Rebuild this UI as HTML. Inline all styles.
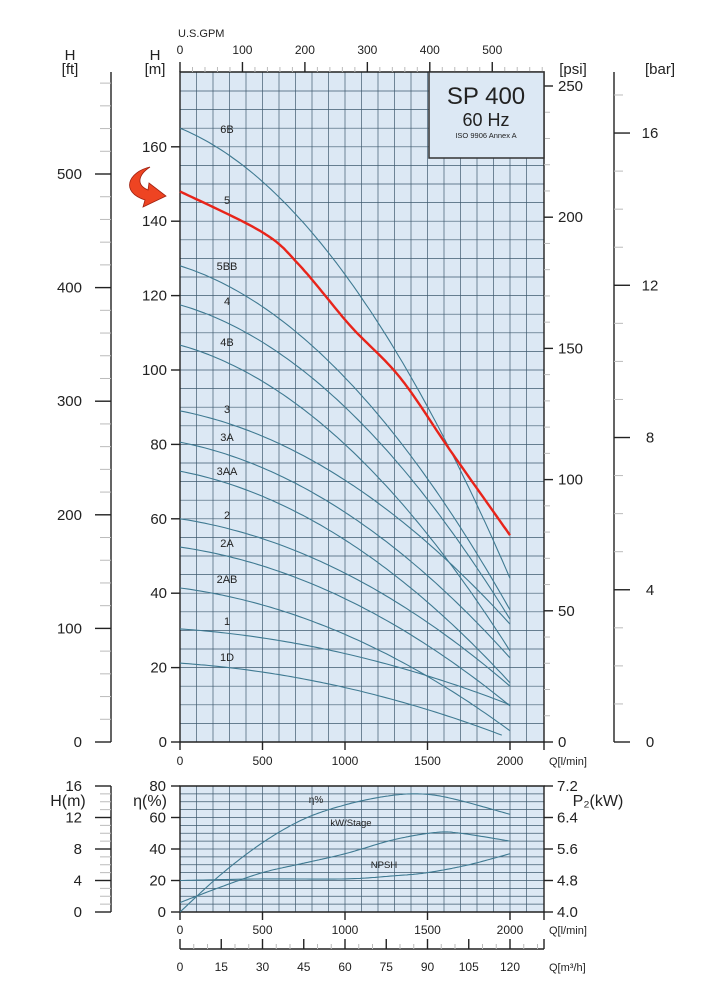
<!DOCTYPE html>
<html><head><meta charset="utf-8"><style>
html,body{margin:0;padding:0;background:#fff}
svg{display:block;font-family:"Liberation Sans",sans-serif}
</style></head><body>
<svg id="s" width="726" height="1000" viewBox="0 0 726 1000" xmlns="http://www.w3.org/2000/svg">
<rect width="726" height="1000" fill="#fff"/>
<rect x="180" y="72" width="364" height="670" fill="#dce8f4"/>
<rect x="180" y="786" width="364" height="126" fill="#dce8f4"/>
<g id="grid" stroke="#3e5a6e" stroke-width="0.7" fill="none"></g>
<g id="ax" stroke="#222" stroke-width="1.4" fill="none"></g>
<g id="curves" fill="none"></g>
<g id="txt" fill="#222" font-size="14"></g>
<rect x="429" y="72" width="115" height="86" fill="#dce8f4" stroke="#333" stroke-width="1.5"/>
<text x="486" y="104" font-size="24" text-anchor="middle" fill="#222">SP 400</text>
<text x="486" y="126" font-size="18" text-anchor="middle" fill="#222">60 Hz</text>
<text x="486" y="138" font-size="7.5" text-anchor="middle" fill="#222">ISO 9906 Annex A</text>
<path d="M150,167 C128,172 120,192 145,200 L143,207 L166,196 L149,183 L148,190 C136,185 138,175 150,167 Z" fill="#ee4422" stroke="#a02010" stroke-width="0.8"/>
</svg>
<script>
const NS="http://www.w3.org/2000/svg";
function el(p,t,a,txt){const e=document.createElementNS(NS,t);for(const k in a)e.setAttribute(k,a[k]);if(txt!==undefined)e.textContent=txt;document.getElementById(p).appendChild(e);return e;}
const X=q=>180+q*0.165;
const Y=h=>742-h*3.72;
const Y2=e=>912-e*1.575;
for(let q=100;q<2200;q+=100){el('grid','line',{x1:X(q),y1:72,x2:X(q),y2:742});el('grid','line',{x1:X(q),y1:786,x2:X(q),y2:912});}
for(let h=5;h<180;h+=5)el('grid','line',{x1:180,y1:Y(h),x2:544,y2:Y(h)});
for(let e=5;e<80;e+=5)el('grid','line',{x1:180,y1:Y2(e),x2:544,y2:Y2(e)});
el('ax','path',{d:'M180,742 V72 H544 V742 H180'});
el('ax','path',{d:'M180,912 V786 H544 V912 H180'});
el('ax','line',{x1:111,y1:72,x2:111,y2:742});
el('ax','line',{x1:614,y1:72,x2:614,y2:742});
el('ax','line',{x1:111,y1:786,x2:111,y2:912});
el('ax','path',{d:'M180,949 H544'});
function T(x,y,s,a,sz){el('txt','text',{x:x,y:y,'text-anchor':a||'start','font-size':sz||14},s);}
for(let h=0;h<=160;h+=20){el('ax','line',{x1:171,y1:Y(h),x2:180,y2:Y(h)});T(167,Y(h)+5,h,'end',15);}
for(let f=0;f<=580;f+=20){const y=742-f*1.136;if(y<74)break;if(f%100==0){el('ax','line',{x1:95,y1:y,x2:111,y2:y});T(82,y+5,f,'end',15);}else el('ax','line',{x1:100,y1:y,x2:111,y2:y,stroke:'#bbb','stroke-width':1});}
for(let p=0;p<=250;p+=10){const y=742-p*2.624;if(p%50==0){el('ax','line',{x1:544,y1:y,x2:553,y2:y});T(558,y+5,p,'start',15);}else el('ax','line',{x1:544,y1:y,x2:550,y2:y,stroke:'#bbb','stroke-width':1});}
for(let b=0;b<=17;b++){const y=742-b*38.06;if(y<74)break;if(b%4==0){el('ax','line',{x1:614,y1:y,x2:630,y2:y});T(650,y+5,b,'middle',15);}else el('ax','line',{x1:614,y1:y,x2:623,y2:y,stroke:'#bbb','stroke-width':1});}
for(let q=0;q<=2000;q+=500){el('ax','line',{x1:X(q),y1:742,x2:X(q),y2:750});T(X(q),765,q,'middle',12);el('ax','line',{x1:X(q),y1:912,x2:X(q),y2:920});T(X(q),934,q,'middle',12);}
el('ax','line',{x1:544,y1:742,x2:544,y2:750});el('ax','line',{x1:544,y1:912,x2:544,y2:920});
T(549,765,'Q[l/min]','start',11);T(549,934,'Q[l/min]','start',11);
for(let g=0;g<=580;g+=20){const x=180+g*0.6245;if(x>544)break;if(g%100==0){el('ax','line',{x1:x,y1:72,x2:x,y2:62});T(x,54,g,'middle',12);}else el('ax','line',{x1:x,y1:72,x2:x,y2:67,stroke:'#bbb','stroke-width':1});}
T(178,37,'U.S.GPM','start',11);
for(let m=0;m<=130;m+=5){const x=X(m*1000/60);if(x>544.5)break;if(m%15==0){el('ax','line',{x1:x,y1:949,x2:x,y2:939});T(x,971,m,'middle',12);}else el('ax','line',{x1:x,y1:949,x2:x,y2:944,stroke:'#bbb','stroke-width':1});}
el('ax','line',{x1:544,y1:949,x2:544,y2:939});
T(549,971,'Q[m³/h]','start',11);
for(let e=0;e<=80;e+=20){el('ax','line',{x1:171,y1:Y2(e),x2:180,y2:Y2(e)});T(166,Y2(e)+5,e,'end',15);}
const kw=['4.0','4.8','5.6','6.4','7.2'];
for(let i=0;i<5;i++){const y=Y2(i*20);el('ax','line',{x1:544,y1:y,x2:553,y2:y});T(557,y+5,kw[i],'start',15);}
for(let i=0;i<=16;i++){const y=912-i*7.875;if(i%4==0){el('ax','line',{x1:95,y1:y,x2:111,y2:y});T(82,y+5,i,'end',15);}else el('ax','line',{x1:100,y1:y,x2:111,y2:y,stroke:'#bbb','stroke-width':1});}
T(68,806,'H(m)','middle',16);T(150,806,'η(%)','middle',16);T(598,806,'P₂(kW)','middle',16);
T(70,60,'H','middle',15);T(70,74,'[ft]','middle',15);T(155,60,'H','middle',15);T(155,74,'[m]','middle',15);
T(573,74,'[psi]','middle',15);T(660,74,'[bar]','middle',15);
function pl(pts,fx,fy,col,w){let d='';pts.forEach((p,i)=>{d+=(i?'L':'M')+fx(p[0]).toFixed(1)+','+fy(p[1]).toFixed(1);});el('curves','path',{d:d,stroke:col,'stroke-width':w,'stroke-linejoin':'round'});}
function smooth(k){const pts=[];const n=k.length;for(let i=0;i<n-1;i++){const p0=k[Math.max(0,i-1)],p1=k[i],p2=k[i+1],p3=k[Math.min(n-1,i+2)];for(let s=0;s<20;s++){const t=s/20,t2=t*t,t3=t2*t;const f=(a,b,c,d)=>0.5*((2*b)+(-a+c)*t+(2*a-5*b+4*c-d)*t2+(-a+3*b-3*c+d)*t3);pts.push([f(p0[0],p1[0],p2[0],p3[0]),f(p0[1],p1[1],p2[1],p3[1])]);}}pts.push(k[n-1]);return pts;}
function pump(h0,h1,qmax){const pts=[];const qm=qmax||2000;for(let q=0;q<=qm;q+=25){const t=q/2000;pts.push([q,h0+(h1-h0)*(0.3*t+0.7*t*t)]);}return pts;}
const C='#3f7a92';
const cs=[['6B',165,44,133],['5BB',128,35.5,270],['4',117.5,33,305],['4B',106.7,24.5,346],['3',89,31.7,413],['3A',80.6,22.6,441],['3AA',72.8,15.9,475],['2',60,15,519],['2A',52.4,9.7,547],['2AB',41.4,3,583],['1',30.4,10,625]];
cs.forEach(c=>{pl(pump(c[1],c[2]),X,Y,C,1.1);T(227,c[3],c[0],'middle',11);});
pl(pump(21.2,1,1950),X,Y,C,1.1);T(227,661,'1D','middle',11);
T(227,204,'5','middle',11);
pl(smooth([[0,148],[500,137],[727,128],[1030,112],[1333,98],[1636,78.5],[2000,55.6]]),X,Y,'#e8241a',2.4);
pl(smooth([[0,0],[250,24],[500,44],[750,59],[1000,68],[1250,73.5],[1450,75],[1650,72],[2000,62]]),X,Y2,C,1.1);
pl(smooth([[0,6],[250,16],[500,25],[750,31],[1000,37],[1300,46],[1550,50.5],[1700,50],[2000,45]]),X,Y2,C,1.1);
pl(smooth([[0,20],[500,21],[1000,21],[1300,23],[1500,25],[1750,30],[2000,37]]),X,Y2,C,1.1);
T(316,803,'η%','middle',10);T(351,826,'kW/Stage','middle',9.5);T(384,868,'NPSH','middle',9.5);
</script>
</body></html>
